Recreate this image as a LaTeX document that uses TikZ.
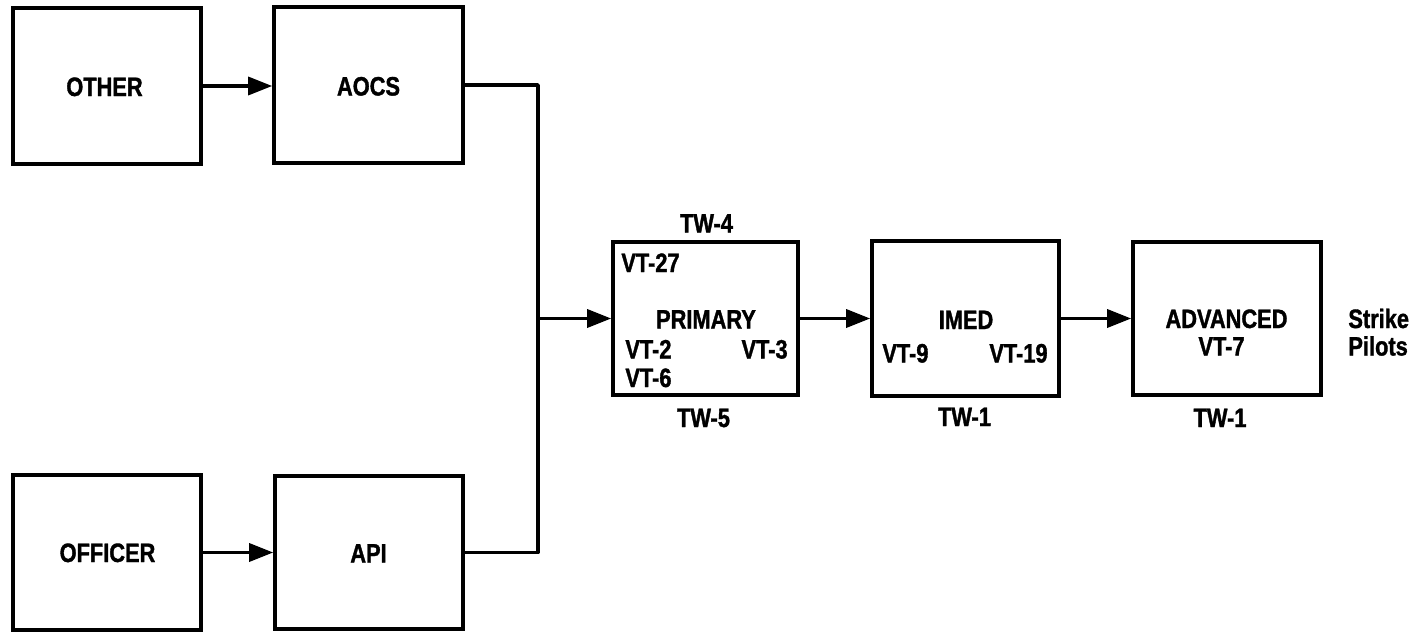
\documentclass[tikz,border=0pt]{standalone}
\usepackage{fontspec}
\setmainfont{Liberation Sans}[FakeStretch=0.82, BoldFeatures={FakeBold=1.3}]
\usetikzlibrary{arrows.meta}
\tikzset{
  box/.style={draw, line width=1.8pt, inner sep=0pt},
  txt/.style={inner sep=0pt, font=\fontsize{13.3}{15}\selectfont\bfseries, text height=9.5pt, text depth=0pt},
  conn/.style={line width=1.7pt, line join=round},
  arr/.style={conn, -{Triangle[length=12pt,width=9pt]}}
}
\begin{document}
\begin{tikzpicture}[x=0.5pt,y=-0.5pt]
\useasboundingbox[fill=white] (0,0) rectangle (1413,632);
% boxes
\node[box, minimum width=94pt, minimum height=78pt] (other) at (107,86) {};
\node[box, minimum width=94.5pt, minimum height=78pt] (aocs) at (368.5,85) {};
\node[box, minimum width=94pt, minimum height=77.5pt] (officer) at (107,552.5) {};
\node[box, minimum width=94pt, minimum height=76.5pt] (api) at (369,552.5) {};
\node[box, minimum width=92.5pt, minimum height=76.5pt] (primary) at (705.5,318.5) {};
\node[box, minimum width=93.5pt, minimum height=77.5pt] (imed) at (965.5,318.5) {};
\node[box, minimum width=94pt, minimum height=76.5pt] (advanced) at (1227,318.5) {};
% box texts
\node[txt] (tother) at (104.5,86.5) {OTHER};
\node[txt] (taocs) at (368.5,86) {AOCS};
\node[txt] (tofficer) at (107.5,552.5) {OFFICER};
\node[txt] (tapi) at (368.5,553) {API};
\node[txt] (tprimary) at (706,319) {PRIMARY};
\node[txt, anchor=west] (vt27) at (621,262.5) {VT-27};
\node[txt, anchor=west] (vt2) at (625,349) {VT-2};
\node[txt, anchor=east] (vt3) at (788,349) {VT-3};
\node[txt, anchor=west] (vt6) at (625,377.5) {VT-6};
\node[txt] (tw4) at (706.5,223) {TW-4};
\node[txt] (tw5) at (703.5,417.5) {TW-5};
\node[txt] (timed) at (966,319.5) {IMED};
\node[txt, anchor=west] (vt9) at (882,353) {VT-9};
\node[txt, anchor=east] (vt19) at (1048,353) {VT-19};
\node[txt] (tw1a) at (964.5,416.5) {TW-1};
\node[txt] (tadvanced) at (1226.5,318.5) {ADVANCED};
\node[txt] (vt7) at (1221.5,346) {VT-7};
\node[txt] (tw1b) at (1220,417.5) {TW-1};
\node[txt, anchor=west] (strike) at (1348,318.5) {Strike};
\node[txt, anchor=west] (pilots) at (1348,346) {Pilots};
% connectors
\coordinate (bus) at (538,318.5);
\draw[arr] (other.east) -- (other.east -| aocs.west);
\draw[arr] (officer.east) -- (officer.east -| api.west);
\draw[conn] (aocs.east) -| (bus) |- (api.east);
\draw[arr] (bus) -- (bus -| primary.west);
\draw[arr] (primary.east) -- (primary.east -| imed.west);
\draw[arr] (imed.east) -- (imed.east -| advanced.west);
\end{tikzpicture}
\end{document}
